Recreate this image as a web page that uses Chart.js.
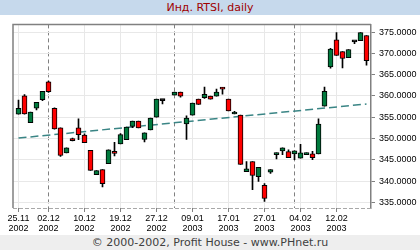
<!DOCTYPE html>
<html>
<head>
<meta charset="utf-8">
<script src="https://cdn.jsdelivr.net/npm/chart.js@4"></script>
<style>
  body { margin: 0; width: 420px; height: 250px; overflow: hidden; background: #fff; }
  #head { height: 15px; background: #c6d9ec; color: #a00000; font: 11px "DejaVu Sans", sans-serif; text-align: center; line-height: 15px; }
  #box { position: relative; width: 420px; height: 220px; }
  #foot { height: 15px; background: #eeeeee; color: #404040; font: 11px "DejaVu Sans", sans-serif; text-align: center; line-height: 16px; }
</style>
</head>
<body>
<div id="head">Инд. RTSI, daily</div>
<div id="box"><canvas id="chart" width="420" height="220"></canvas></div>
<div id="foot">© 2000-2002, Profit House - www.PHnet.ru</div>
<script>
// trading day slots (25 = 31.12 has no data)
const days = [0, 1, 2, 3, 4, 5, 6, 7, 8, 9, 10, 11, 12, 13, 14, 15, 16, 17, 18, 19, 20, 21, 22, 23, 24,
  26, 27, 28, 29, 30, 31, 32, 33, 34, 35, 36, 37, 38, 39, 40, 41, 42, 43, 44, 45, 46, 47, 48, 49, 50,
  51, 52, 53, 54, 55, 56, 57, 58];
const opens = [355.7, 360.0, 353.7, 357.1, 359.1, 363.3, 357.1, 352.5, 346.6, 350.0, 352.5, 350.8, 347.2, 341.5, 342.7,
  344.1, 346.95, 348.75, 349.7, 352.85, 354.1, 349.8, 352.0, 355.0, 359.0,
  360.2, 360.9, 353.4, 355.5, 359.25, 359.6, 359.95, 359.95, 362.0, 359.25, 355.75, 355.5, 342.2, 344.6, 341.05,
  339.0, 342.1, 346.2, 347.1, 346.9, 346.4, 345.4, 346.2, 346.4, 346.4, 357.6, 366.8, 373.2, 370.4, 369.0,
  372.8, 373.0, 374.2];
const highs = [359.0, 360.3, 356.2, 358.5, 361.1, 363.5, 357.2, 352.5, 347.8, 350.1, 354.6, 351.1, 347.2, 342.45, 342.7,
  347.35, 349.1, 351.15, 352.7, 354.1, 354.1, 351.3, 354.8, 359.25, 359.0,
  360.9, 360.9, 355.3, 358.3, 359.25, 362.1, 359.95, 361.6, 362.0, 359.25, 356.35, 355.5, 344.6, 344.6, 343.2,
  339.4, 342.7, 346.65, 347.8, 347.35, 347.1, 348.6, 346.65, 347.0, 354.6, 362.1, 371.2, 374.85, 370.4, 370.9,
  372.8, 374.85, 374.2];
const lows = [355.7, 355.7, 353.7, 356.7, 358.9, 360.8, 352.2, 345.8, 346.6, 349.4, 349.7, 349.0, 342.5, 341.5, 338.6,
  344.1, 345.9, 348.75, 349.7, 352.55, 352.5, 349.2, 352.0, 355.0, 358.1,
  360.2, 359.7, 349.8, 355.5, 358.0, 359.4, 359.25, 359.95, 360.4, 356.45, 355.75, 343.9, 342.2, 338.0, 339.9,
  335.2, 341.8, 345.2, 346.2, 345.5, 345.0, 345.4, 346.2, 345.0, 346.4, 357.6, 366.5, 369.5, 366.6, 369.0,
  372.3, 373.0, 367.2];
const closes = [357.1, 355.75, 356.2, 358.5, 361.1, 361.0, 352.25, 346.0, 347.8, 349.5, 350.9, 349.0, 342.5, 342.45, 339.4,
  347.35, 346.5, 350.9, 352.7, 354.1, 352.5, 351.3, 354.8, 359.25, 358.9,
  360.9, 359.95, 354.8, 358.3, 358.0, 360.4, 359.25, 360.9, 361.6, 356.45, 356.2, 343.9, 342.9, 341.3, 343.2,
  335.9, 342.7, 346.65, 347.8, 345.5, 347.1, 346.65, 346.65, 345.5, 353.4, 361.1, 371.0, 369.5, 368.8, 370.9,
  372.7, 374.85, 368.3];

// trend line end points
const trendX = [0, 58];
const trendY = [350.1, 358.1];

// axis labels
const labelIdx = [0, 5, 11, 17, 23, 29, 35, 41, 47, 53];
const dates = ["25.11", "02.12", "10.12", "19.12", "27.12", "09.01", "17.01", "27.01", "04.02", "12.02"];
const years = ["2002", "2002", "2002", "2002", "2002", "2003", "2003", "2003", "2003", "2003"];
const monthStarts = [5, 26, 46];
const yTicks = [335, 340, 345, 350, 355, 360, 365, 370, 375];

const xTicks = labelIdx.concat(monthStarts).filter((v, i, a) => a.indexOf(v) === i).sort((a, b) => a - b);

const bodyColor = days.map((d, i) => {
  if (Math.abs(closes[i] - opens[i]) < 0.2) return "#000000";
  return closes[i] > opens[i] ? "#007a3d" : "#ff0000";
});

const frame = {
  id: "frame",
  afterDraw(chart) {
    const { ctx, chartArea: a } = chart;
    ctx.save();
    ctx.strokeStyle = "#808080";
    ctx.lineWidth = 1.5;
    ctx.beginPath();
    ctx.moveTo(a.left, a.bottom);
    ctx.lineTo(a.left, a.top);
    ctx.lineTo(a.right, a.top);
    ctx.stroke();
    ctx.strokeStyle = "#a8a8a8";
    ctx.lineWidth = 1;
    ctx.setLineDash([4, 2]);
    ctx.beginPath();
    ctx.moveTo(a.left, a.bottom + 0.5);
    ctx.lineTo(a.right, a.bottom + 0.5);
    ctx.stroke();
    ctx.restore();
  },
};

new Chart(document.getElementById("chart"), {
  data: {
    datasets: [
      {
        type: "line",
        data: trendX.map((x, i) => ({ x: x, y: trendY[i] })),
        borderColor: "#3a8585",
        borderWidth: 1.5,
        borderDash: [8, 4],
        pointRadius: 0,
        order: 3,
      },
      {
        type: "bar",
        data: days.map((d, i) => ({ x: d, y: [lows[i], highs[i]] })),
        backgroundColor: "#000000",
        barThickness: 1,
        grouped: false,
        order: 2,
      },
      {
        type: "bar",
        data: days.map((d, i) => ({ x: d, y: [opens[i], closes[i]] })),
        backgroundColor: bodyColor,
        borderColor: "#000000",
        borderWidth: 1,
        borderSkipped: false,
        barThickness: 5,
        minBarLength: 2,
        grouped: false,
        order: 1,
      },
    ],
  },
  options: {
    responsive: false,
    animation: false,
    layout: { padding: { left: 13, top: 8, right: 0, bottom: 0 } },
    plugins: { legend: { display: false }, tooltip: { enabled: false } },
    scales: {
      x: {
        type: "linear",
        offset: false,
        min: -0.9167,
        max: 58.75,
        afterBuildTicks: (s) => { s.ticks = xTicks.map((v) => ({ value: v })); },
        afterFit: (s) => { s.height = 27; },
        ticks: {
          autoSkip: false,
          maxRotation: 0,
          padding: 1,
          color: "#000000",
          font: { family: "Liberation Sans", size: 9, lineHeight: "10.5px" },
          callback: (v) => {
            const k = labelIdx.indexOf(v);
            return k >= 0 ? [dates[k], years[k]] : "";
          },
        },
        grid: {
          offset: false,
          color: (c) => (monthStarts.includes(c.tick && c.tick.value) ? "#808080" : "#e8e8e8"),
          tickColor: (c) => (labelIdx.includes(c.tick && c.tick.value) ? "#808080" : "rgba(0,0,0,0)"),
          tickLength: 4,
        },
        border: {
          display: false,
          dash: (c) => (c.tick && monthStarts.includes(c.tick.value) ? [4, 3] : []),
        },
      },
      y: {
        position: "right",
        min: 333.67,
        max: 376.8,
        afterBuildTicks: (s) => { s.ticks = yTicks.map((v) => ({ value: v })); },
        afterFit: (s) => { s.width = 49; },
        ticks: {
          autoSkip: false,
          padding: 4,
          color: "#000000",
          font: { family: "Liberation Sans", size: 9 },
          callback: (v) => v.toFixed(4),
        },
        grid: { color: "#e8e8e8", tickColor: "#808080", tickLength: 4 },
        border: { color: "#808080", width: 1.5 },
      },
    },
  },
  plugins: [frame],
});
</script>
</body>
</html>
